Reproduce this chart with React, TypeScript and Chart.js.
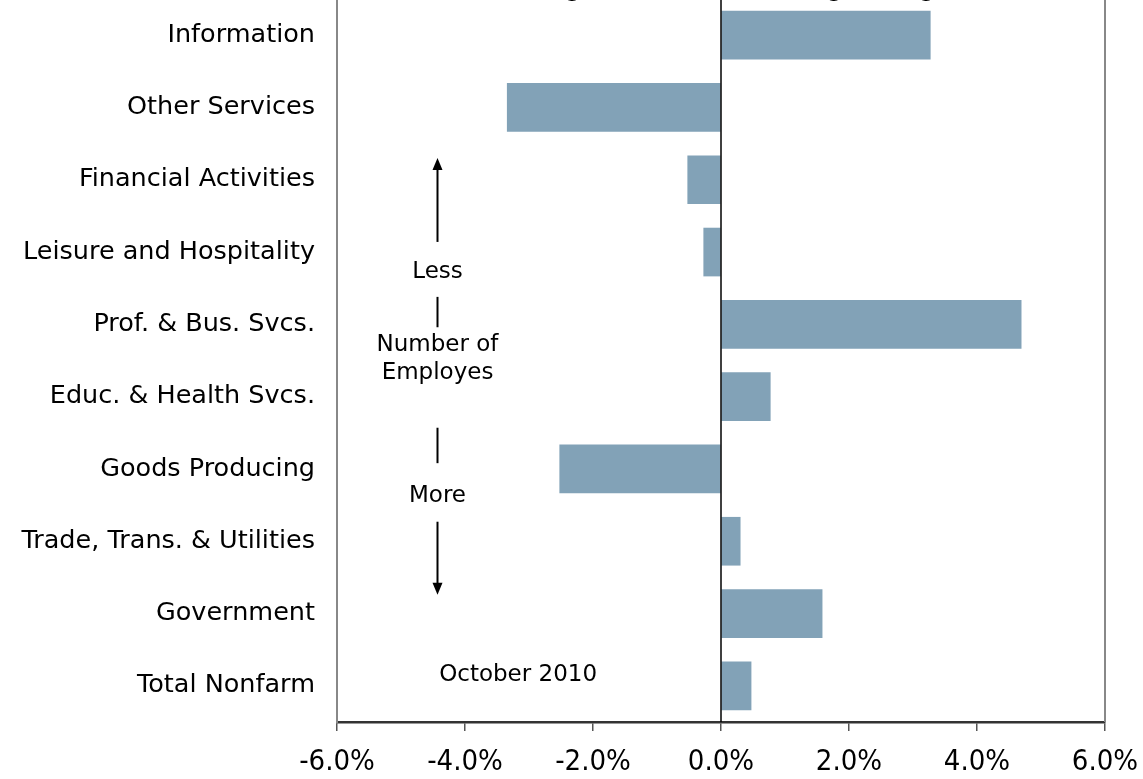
import React, { useEffect, useRef } from "react";
import { Chart, registerables } from "chart.js";

Chart.register(...registerables);

const categories = [
  "Information",
  "Other Services",
  "Financial Activities",
  "Leisure and Hospitality",
  "Prof. & Bus. Svcs.",
  "Educ. & Health Svcs.",
  "Goods Producing",
  "Trade, Trans. & Utilities",
  "Government",
  "Total Nonfarm",
];
const changes = [3.27, -3.34, -0.52, -0.27, 4.69, 0.77, -2.52, 0.3, 1.58, 0.47];
const xMin = -6;
const xMax = 6;
const xStep = 2;
const topLabels = ["Losing Ground", "Gaining Strength"];
const noteLess = "Less";
const noteMiddle = ["Number of", "Employes"];
const noteMore = "More";
const noteDate = "October 2010";

const BAR_COLOR = "#82a2b7";
const CAT_FONT = '"DejaVu Sans", Verdana, sans-serif';
const TICK_FONT = '"DejaVu Sans Condensed", "Liberation Sans Narrow", "DejaVu Sans", sans-serif';

const W = 1143;
const H = 829;
const SHIFT = 50;

function line(ctx: CanvasRenderingContext2D, x1: number, y1: number, x2: number, y2: number) {
  ctx.beginPath();
  ctx.moveTo(x1, y1);
  ctx.lineTo(x2, y2);
  ctx.stroke();
}

function head(ctx: CanvasRenderingContext2D, x: number, tipY: number, dir: number) {
  ctx.beginPath();
  ctx.moveTo(x, tipY);
  ctx.lineTo(x - 5, tipY - dir * 12);
  ctx.lineTo(x + 5, tipY - dir * 12);
  ctx.closePath();
  ctx.fill();
}

const annotationPlugin = {
  id: "annotations",
  afterDatasetsDraw(chart: any) {
    const { ctx, chartArea, scales } = chart;
    const xs = scales.x;
    const ys = scales.y;
    ctx.save();

    // zero line
    const x0 = xs.getPixelForValue(0);
    ctx.strokeStyle = "#000";
    ctx.lineWidth = 1.5;
    line(ctx, x0, chartArea.top, x0, chartArea.bottom);

    // right border
    ctx.strokeStyle = "#888";
    ctx.lineWidth = 2;
    line(ctx, chartArea.right, chartArea.top, chartArea.right, chartArea.bottom);

    // arrows and notes
    const ax = Math.round(xs.getPixelForValue(-4.44)) + 0.5;
    const py = (v: number) => ys.getPixelForValue(v);
    ctx.strokeStyle = "#000";
    ctx.fillStyle = "#000";
    ctx.lineWidth = 2;
    line(ctx, ax, py(1.78), ax, py(2.86));
    head(ctx, ax, py(1.70), -1);
    line(ctx, ax, py(3.62), ax, py(4.04));
    line(ctx, ax, py(5.43), ax, py(5.92));
    line(ctx, ax, py(6.73), ax, py(7.64));
    head(ctx, ax, py(7.74), 1);

    ctx.font = "23px " + CAT_FONT;
    ctx.textAlign = "center";
    ctx.textBaseline = "middle";
    ctx.fillText(noteLess, ax, py(3.28));
    ctx.fillText(noteMiddle[0], ax, py(4.28));
    ctx.fillText(noteMiddle[1], ax, py(4.68));
    ctx.fillText(noteMore, ax, py(6.37));
    ctx.fillText(noteDate, xs.getPixelForValue(-3.17), py(8.85));

    // clipped header texts (only descenders visible)
    ctx.font = "25.5px " + CAT_FONT;
    ctx.textAlign = "left";
    ctx.textBaseline = "alphabetic";
    const gw = ctx.measureText("g").width;
    const lx = xs.getPixelForValue(-2.31) - ctx.measureText("Losin").width - gw / 2;
    ctx.fillText(topLabels[0], lx, chartArea.top - 3);
    const rx = xs.getPixelForValue(1.78) - ctx.measureText("Gainin").width - gw / 2;
    ctx.fillText(topLabels[1], rx, chartArea.top - 3);

    ctx.restore();
  },
};

export default function App() {
  const ref = useRef<HTMLCanvasElement | null>(null);

  useEffect(() => {
    document.body.style.margin = "0";
    const canvas = ref.current;
    if (!canvas) return;
    const chart = new Chart(canvas, {
      type: "bar",
      data: {
        labels: categories,
        datasets: [
          {
            data: changes,
            backgroundColor: BAR_COLOR,
            borderWidth: 0,
            barThickness: 48,
          },
        ],
      },
      options: {
        indexAxis: "y",
        responsive: false,
        animation: false,
        layout: { padding: { top: 49, right: 38, bottom: 0, left: 0 } },
        plugins: {
          legend: { display: false },
          tooltip: { enabled: false },
          title: { display: false },
        },
        scales: {
          x: {
            type: "linear",
            min: xMin,
            max: xMax,
            afterFit: (s: any) => {
              s.height = 57;
              s.paddingLeft = 0;
              s.paddingRight = 0;
            },
            ticks: {
              stepSize: xStep,
              padding: 14,
              color: "#000",
              font: { family: TICK_FONT, size: 29 },
              callback: (v: any) => Number(v).toFixed(1) + "%",
            },
            grid: {
              display: true,
              drawOnChartArea: false,
              drawTicks: true,
              tickLength: 9,
              color: "#555",
              lineWidth: 1.5,
            },
            border: { display: true, color: "#333", width: 2.5 },
          },
          y: {
            type: "category",
            afterFit: (s: any) => {
              s.width = 337;
              s.paddingTop = 0;
              s.paddingBottom = 0;
            },
            ticks: {
              padding: 22,
              color: "#000",
              font: { family: CAT_FONT, size: 25.5 },
            },
            grid: { display: false, drawTicks: false },
            border: { display: true, color: "#888", width: 2 },
          },
        },
      },
      plugins: [annotationPlugin],
    } as any);
    return () => chart.destroy();
  }, []);

  return (
    <div style={{ position: "relative", width: W, height: 779, overflow: "hidden", background: "#fff" }}>
      <canvas
        ref={ref}
        width={W}
        height={H}
        style={{ position: "absolute", left: 0, top: -SHIFT, width: W, height: H }}
      />
    </div>
  );
}
